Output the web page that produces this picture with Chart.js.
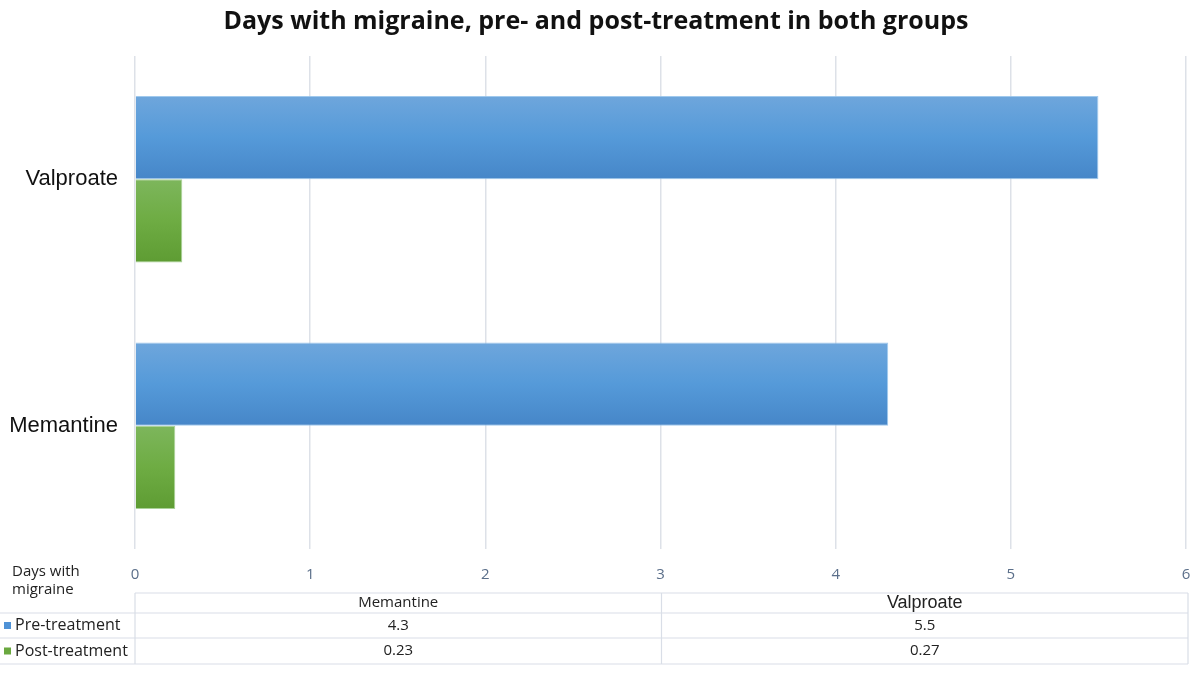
<!DOCTYPE html>
<html>
<head>
<meta charset="utf-8">
<script src="https://cdn.jsdelivr.net/npm/chart.js@4/dist/chart.umd.min.js"></script>
<style>
  body { margin: 0; background: #fff; }
  #wrap { width: 1192px; height: 675px; position: relative; }
</style>
</head>
<body>
<div id="wrap"><canvas id="barChart"></canvas></div>
<script>
// chart data
var categories = ["Memantine", "Valproate"];
var preTreatment = [4.3, 5.5];
var postTreatment = [0.23, 0.27];
var seriesNames = ["Pre-treatment", "Post-treatment"];
var tableLabels = ["4.3", "5.5"];
var tablePost = ["0.23", "0.27"];
var axisTitle = ["Days with", "migraine"];

var CAT_PCT = 0.675;

// vertical gradient for each bar, worked out from the y scale
function barFill(topColor, midColor, bottomColor, flat) {
  return function(c) {
    var chart = c.chart;
    var y = chart.scales.y;
    if (!y || !chart.chartArea || c.dataIndex === undefined) return flat;
    var size = Math.abs(y.getPixelForValue(1) - y.getPixelForValue(0));
    var full = size * CAT_PCT;
    var each = full / 2;
    var top = y.getPixelForValue(c.dataIndex) - full / 2 + c.datasetIndex * each;
    var g = chart.ctx.createLinearGradient(0, top, 0, top + each);
    g.addColorStop(0, topColor);
    g.addColorStop(0.5, midColor);
    g.addColorStop(1, bottomColor);
    return g;
  };
}

// data table under the axis
var tablePlugin = {
  id: "dataTable",
  afterDraw: function(chart) {
    var ctx = chart.ctx;
    var area = chart.chartArea;
    var left = area.left, right = area.right + 2;
    var mid = (left + right) / 2;
    var rows = [593, 613, 638, 664];
    ctx.save();
    ctx.strokeStyle = "#d9dee7";
    ctx.lineWidth = 1.2;
    ctx.beginPath();
    ctx.moveTo(left, rows[0]); ctx.lineTo(right, rows[0]);
    for (var r = 1; r < rows.length; r++) {
      ctx.moveTo(0, rows[r]); ctx.lineTo(right, rows[r]);
    }
    [left, mid, right].forEach(function(x) {
      ctx.moveTo(x, rows[0]); ctx.lineTo(x, rows[3]);
    });
    ctx.stroke();

    ctx.fillStyle = "#222";
    ctx.textBaseline = "middle";
    ctx.textAlign = "left";
    ctx.font = "15px 'Open Sans'";
    ctx.fillText(axisTitle[0], 12, 572);
    ctx.fillText(axisTitle[1], 12, 590);

    // legend keys
    var keyColors = ["#4f92d6", "#6aa83f"];
    for (var s = 0; s < seriesNames.length; s++) {
      var cy = (rows[s + 1] + rows[s + 2]) / 2;
      ctx.fillStyle = keyColors[s];
      ctx.fillRect(4, cy - 3.5, 7, 7);
      ctx.fillStyle = "#222";
      ctx.font = "16px 'Open Sans'";
      ctx.fillText(seriesNames[s], 15, cy);
    }

    ctx.textAlign = "center";
    var cols = [(left + mid) / 2, (mid + right) / 2];
    for (var i = 0; i < categories.length; i++) {
      var hy = (rows[0] + rows[1]) / 2;
      ctx.font = i === 0 ? "15px 'Open Sans'" : "18px 'Liberation Sans'";
      ctx.fillText(categories[i], cols[i], hy);
      ctx.font = "15px 'Open Sans'";
      ctx.fillText(tableLabels[i], cols[i], (rows[1] + rows[2]) / 2);
      ctx.fillText(tablePost[i], cols[i], (rows[2] + rows[3]) / 2);
    }
    ctx.restore();
  }
};

var BAR = document.getElementById("barChart");

var myBarChart = new Chart(BAR, {
  type: "bar",
  data: {
    labels: categories,
    datasets: [
      {
        label: seriesNames[0],
        data: preTreatment,
        backgroundColor: barFill("#6ea6dc", "#559ad9", "#4686c8", "#559ad9"),
        borderColor: "rgba(150, 195, 235, 0.9)",
        borderWidth: 1,
        categoryPercentage: CAT_PCT,
        barPercentage: 1
      },
      {
        label: seriesNames[1],
        data: postTreatment,
        backgroundColor: barFill("#7db65c", "#6eac43", "#5e9c33", "#6eac43"),
        borderColor: "rgba(160, 205, 140, 0.9)",
        borderWidth: 1,
        categoryPercentage: CAT_PCT,
        barPercentage: 1
      }
    ]
  },
  options: {
    indexAxis: "y",
    responsive: true,
    maintainAspectRatio: false,
    animation: false,
    layout: { padding: { left: 0, right: 0, top: 0, bottom: 74 } },
    plugins: {
      legend: { display: false },
      tooltip: { enabled: false },
      title: {
        display: true,
        text: "Days with migraine, pre- and post-treatment in both groups",
        color: "#111",
        font: { family: "'Open Sans'", size: 25, weight: "bold" },
        padding: { top: 7, bottom: 19 }
      }
    },
    scales: {
      x: {
        min: 0,
        max: 6,
        ticks: {
          stepSize: 1,
          color: "#5b6f8a",
          font: { family: "'Open Sans'", size: 15 },
          padding: 17
        },
        grid: { color: "#dde1e8", lineWidth: 1.5, drawTicks: false },
        border: { display: false },
        afterFit: function(scale) { scale.paddingRight = 6; scale.paddingLeft = 0; }
      },
      y: {
        reverse: true,
        ticks: {
          color: "#111",
          font: { family: "'Liberation Sans'", size: 22 },
          padding: 9
        },
        grid: { display: false },
        border: { display: false },
        afterFit: function(scale) { scale.width = 135; }
      }
    }
  },
  plugins: [tablePlugin]
});
</script>
</body>
</html>
